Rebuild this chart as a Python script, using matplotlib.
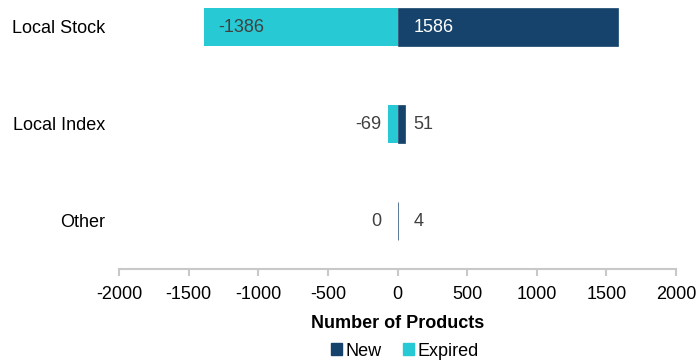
import matplotlib.pyplot as plt
from matplotlib.patches import Patch

plt.rcParams['font.family'] = ['Liberation Sans', 'DejaVu Sans']
plt.rcParams['axes.unicode_minus'] = False

categories = ['Local Stock', 'Local Index', 'Other']
new_products = [1586, 51, 4]
expired_products = [-1386, -69, 0]
x_ticks = [-2000, -1500, -1000, -500, 0, 500, 1000, 1500, 2000]

navy = '#16436B'
cyan = '#27CAD4'
text_grey = '#404040'
fs = 13

fig = plt.figure(figsize=(6.97, 3.6), dpi=100)
ax = fig.add_axes([119 / 697, 1 - 269 / 360, 557 / 697, 269 / 360])

pos = list(range(len(categories)))
ax.barh(pos, expired_products, height=0.39, color=cyan, linewidth=0)
ax.barh(pos, new_products, height=0.39, color=navy, edgecolor=navy, linewidth=0.5)

# value labels
for i in pos:
    ax.annotate(str(new_products[i]), (0, i), xytext=(16, -1), textcoords='offset pixels',
                ha='left', va='center', fontsize=fs,
                color='white' if new_products[i] > 500 else text_grey)
    v = expired_products[i]
    if v < -500:
        ax.annotate(str(v), (v, i), xytext=(14, -1), textcoords='offset pixels',
                    ha='left', va='center', fontsize=fs, color=text_grey)
    else:
        ax.annotate(str(v), (0, i), xytext=(-16, -1), textcoords='offset pixels',
                    ha='right', va='center', fontsize=fs, color=text_grey)

ax.set_xlim(-2000, 2000)
ax.set_ylim(2.495, -0.278)
ax.set_xticks(x_ticks)
ax.set_xticklabels([str(t) for t in x_ticks], fontsize=fs)
ax.set_yticks(pos)
ax.set_yticklabels(categories, fontsize=fs)
ax.tick_params(axis='y', length=0, pad=10)
ax.tick_params(axis='x', length=5, width=1.5, color='#C8C8C8', pad=7)

for s in ['top', 'right', 'left']:
    ax.spines[s].set_visible(False)
ax.spines['bottom'].set_color('#C8C8C8')
ax.spines['bottom'].set_linewidth(1.5)

ax.set_xlabel('Number of Products', fontsize=fs, fontweight='bold', labelpad=9)

handles = [Patch(color=navy, label='New'), Patch(color=cyan, label='Expired')]
fig.legend(handles=handles, loc='center', bbox_to_anchor=(405 / 697, 1 - 351 / 360),
           ncol=2, frameon=False, fontsize=fs, handlelength=0.6, handleheight=0.6,
           handletextpad=0.2, columnspacing=1.2, borderpad=0)

fig.savefig('out.png', dpi=100)
